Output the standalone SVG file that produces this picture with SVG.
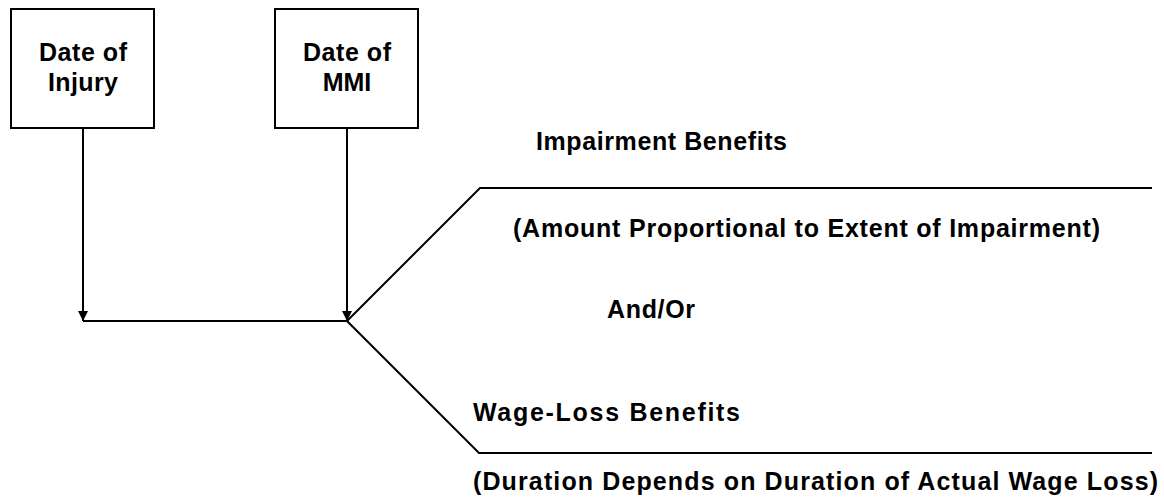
<svg xmlns="http://www.w3.org/2000/svg" width="1164" height="503" viewBox="0 0 1164 503">
  <style>
    .box { fill: #ffffff; stroke: #000000; stroke-width: 2; }
    .line { fill: none; stroke: #000000; stroke-width: 2; }
    .lbl { font-family: "Liberation Sans", Arial, sans-serif; font-weight: bold; font-size: 25px; fill: #000000; }
    .mid { text-anchor: middle; }
  </style>
  <defs>
    <marker id="arrow" viewBox="0 0 10 10" refX="10" refY="5" markerWidth="10" markerHeight="10" markerUnits="userSpaceOnUse" orient="auto">
      <path d="M0,0 L10,5 L0,10 Z" fill="#000000"/>
    </marker>
  </defs>

  <rect width="1164" height="503" fill="#ffffff"/>

  <!-- event boxes -->
  <g id="node-injury">
    <rect class="box" x="11" y="9" width="143" height="119"/>
    <text class="lbl mid" x="83" y="61" textLength="88" lengthAdjust="spacing">Date of</text>
    <text class="lbl mid" x="83" y="91" textLength="70" lengthAdjust="spacing">Injury</text>
  </g>
  <g id="node-mmi">
    <rect class="box" x="275" y="9" width="143" height="119"/>
    <text class="lbl mid" x="347" y="61" textLength="88" lengthAdjust="spacing">Date of</text>
    <text class="lbl mid" x="347" y="91">MMI</text>
  </g>

  <!-- timeline and branches -->
  <g id="connectors">
    <line class="line" x1="83" y1="128" x2="83" y2="321" marker-end="url(#arrow)"/>
    <line class="line" x1="347" y1="128" x2="347" y2="321" marker-end="url(#arrow)"/>
    <line class="line" x1="83" y1="321" x2="347" y2="321"/>
    <polyline class="line" points="347,321 480,188 1152,188"/>
    <polyline class="line" points="347,321 479,453 1152,453"/>
  </g>

  <!-- branch labels -->
  <g id="node-impairment">
    <text class="lbl" x="536" y="150" textLength="251" lengthAdjust="spacing">Impairment Benefits</text>
    <text class="lbl" x="513" y="237" textLength="587" lengthAdjust="spacing">(Amount Proportional to Extent of Impairment)</text>
  </g>
  <g id="node-andor">
    <text class="lbl" x="607" y="318" textLength="88" lengthAdjust="spacing">And/Or</text>
  </g>
  <g id="node-wageloss">
    <text class="lbl" x="473" y="421" textLength="267" lengthAdjust="spacing">Wage-Loss Benefits</text>
    <text class="lbl" x="473" y="490" textLength="685" lengthAdjust="spacing">(Duration Depends on Duration of Actual Wage Loss)</text>
  </g>
</svg>
